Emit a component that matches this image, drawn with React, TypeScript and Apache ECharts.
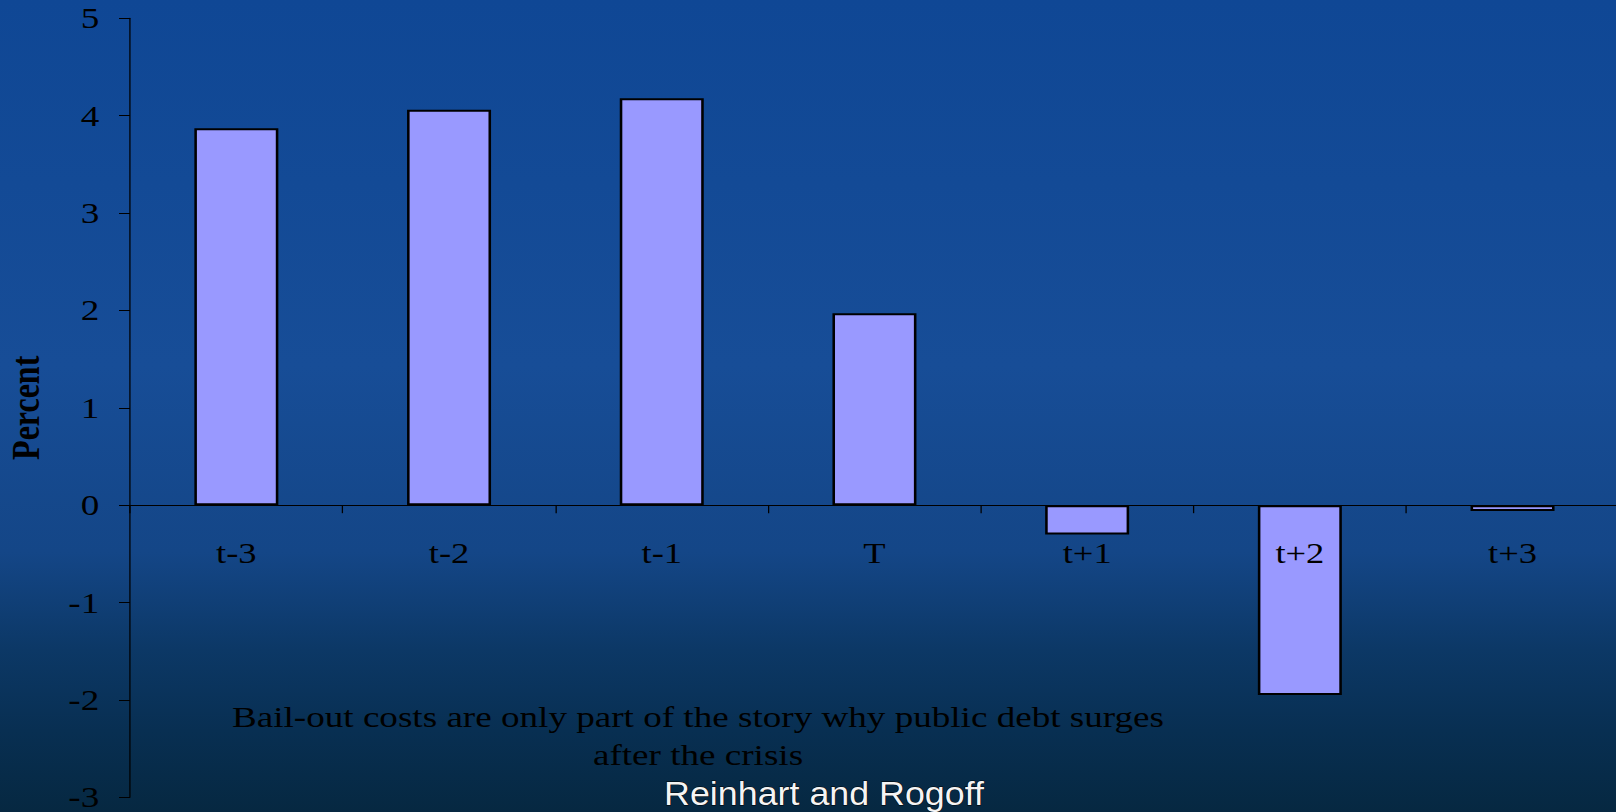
import React, { useEffect, useRef } from "react";
import * as echarts from "echarts";

// Years around the banking crisis (T) and the change in real public debt, percent
const categories = ["t-3", "t-2", "t-1", "T", "t+1", "t+2", "t+3"];
const percentValues = [3.87, 4.06, 4.18, 1.97, -0.3, -1.95, -0.06];
const yMin = -3;
const yMax = 5;
const yStep = 1;
const axisName = "Percent";
const noteLines = [
  "Bail-out costs are only part of the story why public debt surges",
  "after the crisis",
];
const credit = "Reinhart and Rogoff";

// The slide is drawn in a narrower frame and widened horizontally
const PAGE_W = 1616;
const PAGE_H = 812;
const STRETCH = 1.28;
const FRAME_W = PAGE_W / STRETCH;
const sx = (px: number) => px / STRETCH;

const GRID_TOP = 18.3;
const GRID_BOTTOM = 14.7;
const GRID_H = PAGE_H - GRID_TOP - GRID_BOTTOM;
// distance from the bottom of the plot up to the zero line
const ZERO_LIFT = (GRID_H * (0 - yMin)) / (yMax - yMin);

const SERIF = "'Liberation Serif', 'Times New Roman', serif";
const SANS = "'Liberation Sans', Arial, sans-serif";

export default function App() {
  const ref = useRef<HTMLDivElement>(null);

  useEffect(() => {
    document.body.style.margin = "0";
    if (!ref.current) return;
    const chart = echarts.init(ref.current, null, { renderer: "svg" });

    chart.setOption({
      animation: false,
      backgroundColor: new echarts.graphic.LinearGradient(0, 0, 0, 1, [
        { offset: 0, color: "#0f4795" },
        { offset: 0.45, color: "#174d97" },
        { offset: 0.68, color: "#144687" },
        { offset: 0.8, color: "#0c3866" },
        { offset: 0.9, color: "#082f52" },
        { offset: 1, color: "#062841" },
      ]),
      grid: {
        left: sx(130),
        width: sx(7 * 212.7),
        top: GRID_TOP,
        bottom: GRID_BOTTOM,
        containLabel: false,
        outerBoundsMode: "none",
      },
      xAxis: {
        type: "category",
        data: categories,
        position: "bottom",
        offset: -ZERO_LIFT,
        z: 5,
        axisLine: { show: true, onZero: false, lineStyle: { color: "#000", width: 1 } },
        axisTick: { show: true, length: 8, lineStyle: { color: "#000", width: 1 } },
        axisLabel: {
          margin: 34,
          fontSize: 28.5,
          fontFamily: SERIF,
          color: "#000",
        },
        splitLine: { show: false },
      },
      yAxis: {
        type: "value",
        min: yMin,
        max: yMax,
        interval: yStep,
        name: axisName,
        nameLocation: "middle",
        nameGap: 66,
        nameTextStyle: {
          fontFamily: SERIF,
          fontWeight: "bold",
          fontSize: 32,
          color: "#000",
        },
        axisLine: { show: true, lineStyle: { color: "#000", width: 1 } },
        axisTick: { show: true, length: sx(11), lineStyle: { color: "#000", width: 1 } },
        axisLabel: {
          margin: 24,
          fontSize: 29,
          fontFamily: SERIF,
          color: "#000",
        },
        splitLine: { show: false },
      },
      series: [
        {
          type: "bar",
          data: percentValues,
          barWidth: sx(84),
          z: 2,
          itemStyle: { color: "#9999ff", borderColor: "#000", borderWidth: 2 },
        },
      ],
      graphic: [
        {
          type: "text",
          x: sx(698),
          y: 736,
          style: {
            text: noteLines.join("\n"),
            fontFamily: SERIF,
            fontSize: 29,
            lineHeight: 38.3,
            fill: "#000",
            align: "center",
            verticalAlign: "middle",
          },
        },
        {
          type: "text",
          x: sx(824),
          y: 793,
          scaleX: 0.823,
          style: {
            text: credit,
            fontFamily: SANS,
            fontSize: 34,
            fill: "#f4f4f4",
            stroke: "#000",
            lineWidth: 1,
            align: "center",
            verticalAlign: "middle",
            shadowColor: "#000",
            shadowBlur: 1,
            shadowOffsetX: 2,
            shadowOffsetY: 1.5,
          },
        },
      ],
    });

    return () => chart.dispose();
  }, []);

  return (
    <div style={{ width: PAGE_W, height: PAGE_H, overflow: "hidden", position: "relative" }}>
      <div
        ref={ref}
        style={{
          width: FRAME_W,
          height: PAGE_H,
          transform: `scaleX(${STRETCH})`,
          transformOrigin: "0 0",
        }}
      />
    </div>
  );
}
